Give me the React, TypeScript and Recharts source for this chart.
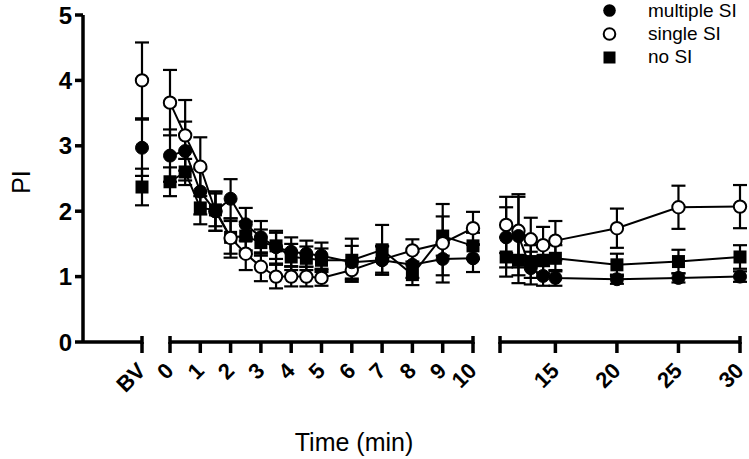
import React from 'react';
import { LineChart, Line, XAxis, YAxis, ErrorBar } from 'recharts';

const W = 749;
const H = 459;
const FONT = '"Liberation Sans", Arial, Helvetica, sans-serif';

// ---- Baseline (BV) ----
const bvX = [1];
const bvMulti = [2.97];
const bvMultiErr = [0.43];
const bvSingle = [4.0];
const bvSingleErr = [0.58];
const bvNone = [2.37];
const bvNoneErr = [0.28];

// ---- 0 - 10 min ----
const earlyTimes = [0, 0.5, 1, 1.5, 2, 2.5, 3, 3.5, 4, 4.5, 5, 6, 7, 8, 9, 10];
const earlyMulti = [2.85, 2.92, 2.3, 2.0, 2.19, 1.8, 1.6, 1.45, 1.38, 1.35, 1.32, 1.22, 1.25, 1.18, 1.27, 1.28];
const earlyMultiErr = [0.4, 0.45, 0.35, 0.3, 0.3, 0.25, 0.25, 0.25, 0.22, 0.2, 0.2, 0.25, 0.22, 0.2, 0.25, 0.21];
const earlySingle = [3.66, 3.16, 2.68, 2.0, 1.59, 1.35, 1.15, 1.0, 1.0, 1.0, 0.98, 1.1, 1.26, 1.4, 1.51, 1.74];
const earlySingleErr = [0.5, 0.54, 0.45, 0.3, 0.3, 0.25, 0.22, 0.18, 0.15, 0.15, 0.12, 0.15, 0.2, 0.17, 0.6, 0.25];
const earlyNone = [2.45, 2.6, 2.05, 2.02, 1.6, 1.62, 1.52, 1.47, 1.3, 1.28, 1.25, 1.25, 1.41, 1.03, 1.62, 1.47];
const earlyNoneErr = [0.22, 0.2, 0.25, 0.25, 0.25, 0.22, 0.2, 0.2, 0.2, 0.18, 0.18, 0.33, 0.38, 0.16, 0.3, 0.2];

// ---- 11 - 30 min ----
const lateTimes = [11, 12, 13, 14, 15, 20, 25, 30];
const lateMulti = [1.6, 1.62, 1.13, 1.01, 0.98, 0.96, 0.98, 1.0];
const lateMultiErr = [0.46, 0.6, 0.25, 0.15, 0.12, 0.07, 0.07, 0.08];
const lateSingle = [1.79, 1.7, 1.57, 1.48, 1.55, 1.74, 2.06, 2.07];
const lateSingleErr = [0.43, 0.56, 0.33, 0.28, 0.3, 0.3, 0.33, 0.33];
const lateNone = [1.3, 1.25, 1.23, 1.25, 1.28, 1.18, 1.23, 1.3];
const lateNoneErr = [0.3, 0.35, 0.25, 0.2, 0.2, 0.17, 0.18, 0.18];

// ---- ticks ----
const yTicks = [0, 1, 2, 3, 4, 5];
const bvTicks = [1];
const bvTickLabels = ['BV'];
const bvCaps = [1];
const earlyTicks = [0, 1, 2, 3, 4, 5, 6, 7, 8, 9, 10];
const earlyTickLabels = ['0', '1', '2', '3', '4', '5', '6', '7', '8', '9', '10'];
const earlyCaps = [0, 10];
const lateTicks = [10.5, 15, 20, 25, 30];
const lateTickLabels = ['', '15', '20', '25', '30'];
const lateCaps = [10.5, 30];

const legendLabels = ['multiple SI', 'single SI', 'no SI'];
const xAxisTitle = 'Time (min)';
const yAxisTitle = 'PI';

function buildRows(
  xs: number[], m: number[], me: number[], s: number[], se: number[], n: number[], ne: number[]
) {
  return xs.map((x, i) => ({
    x,
    multi: m[i],
    multiErr: me[i],
    single: s[i],
    singleErr: se[i],
    none: n[i],
    noneErr: ne[i],
  }));
}

const bvRows = buildRows(bvX, bvMulti, bvMultiErr, bvSingle, bvSingleErr, bvNone, bvNoneErr);
const earlyRows = buildRows(earlyTimes, earlyMulti, earlyMultiErr, earlySingle, earlySingleErr, earlyNone, earlyNoneErr);
const lateRows = buildRows(lateTimes, lateMulti, lateMultiErr, lateSingle, lateSingleErr, lateNone, lateNoneErr);

const X_TICK_SIZE = 11;
const X_TICK_MARGIN = 2;
const X_AXIS_H = 60;
const AXIS_W = 3.5;

function renderXTick(p: any, ticks: number[], labels: string[], caps: number[]) {
  const { x, y, payload } = p;
  const idx = ticks.indexOf(payload.value);
  const label = idx >= 0 ? labels[idx] : '';
  const axisY = y - X_TICK_SIZE - X_TICK_MARGIN;
  const ax = x + 5;
  const ay = axisY + 30;
  return (
    <g>
      {caps.includes(payload.value) && (
        <line x1={x} x2={x} y1={axisY - 6} y2={axisY + 2} stroke="#000" strokeWidth={AXIS_W} />
      )}
      {label !== '' && (
        <text
          x={ax}
          y={ay}
          transform={`rotate(-45, ${ax}, ${ay})`}
          textAnchor="end"
          fontFamily={FONT}
          fontWeight={700}
          fontSize={22}
          fill="#000"
        >
          {label}
        </text>
      )}
    </g>
  );
}

const squareDot = (p: any) => (
  <rect key={`sq-${p.index}`} x={p.cx - 6.5} y={p.cy - 6.5} width={13} height={13} fill="#000" />
);

interface SegProps {
  rows: any[];
  domain: [number, number];
  ticks: number[];
  labels: string[];
  caps: number[];
  margin: { top: number; right: number; bottom: number; left: number };
  showY: boolean;
}

function Segment({ rows, domain, ticks, labels, caps, margin, showY }: SegProps) {
  return (
    <div style={{ position: 'absolute', left: 0, top: 0 }}>
      <LineChart width={W} height={H} data={rows} margin={margin}>
        <XAxis
          type="number"
          dataKey="x"
          domain={domain}
          ticks={ticks}
          interval={0}
          height={X_AXIS_H}
          axisLine={{ stroke: '#000', strokeWidth: AXIS_W }}
          tickLine={{ stroke: '#000', strokeWidth: AXIS_W }}
          tickSize={X_TICK_SIZE}
          tickMargin={X_TICK_MARGIN}
          tick={(p: any) => renderXTick(p, ticks, labels, caps)}
        />
        <YAxis
          type="number"
          domain={[0, 5]}
          ticks={yTicks}
          interval={0}
          hide={!showY}
          width={83}
          axisLine={{ stroke: '#000', strokeWidth: AXIS_W }}
          tickLine={{ stroke: '#000', strokeWidth: AXIS_W }}
          tickSize={8}
          tickMargin={3}
          tick={{ fill: '#000', fontSize: 24, fontWeight: 700, fontFamily: FONT }}
        />
        <Line
          dataKey="none"
          type="linear"
          stroke="#000"
          strokeWidth={2}
          dot={squareDot}
          activeDot={false}
          isAnimationActive={false}
        >
          <ErrorBar dataKey="noneErr" width={7} strokeWidth={2.2} stroke="#000" direction="y" />
        </Line>
        <Line
          dataKey="single"
          type="linear"
          stroke="#000"
          strokeWidth={2}
          dot={{ r: 6.2, fill: '#fff', stroke: '#000', strokeWidth: 2 }}
          activeDot={false}
          isAnimationActive={false}
        >
          <ErrorBar dataKey="singleErr" width={7} strokeWidth={2.2} stroke="#000" direction="y" />
        </Line>
        <Line
          dataKey="multi"
          type="linear"
          stroke="#000"
          strokeWidth={2}
          dot={{ r: 6.5, fill: '#000', stroke: '#000', strokeWidth: 1 }}
          activeDot={false}
          isAnimationActive={false}
        >
          <ErrorBar dataKey="multiErr" width={7} strokeWidth={2.2} stroke="#000" direction="y" />
        </Line>
      </LineChart>
    </div>
  );
}

export default function App() {
  return (
    <div style={{ position: 'absolute', left: 0, top: 0, width: W, height: H, background: '#fff', overflow: 'hidden' }}>
      <Segment rows={bvRows} domain={[0, 1]} ticks={bvTicks} labels={bvTickLabels} caps={bvCaps}
        margin={{ top: 15, right: 607, bottom: 57, left: 0 }} showY={true} />
      <Segment rows={earlyRows} domain={[0, 10]} ticks={earlyTicks} labels={earlyTickLabels} caps={earlyCaps}
        margin={{ top: 15, right: 276, bottom: 57, left: 170 }} showY={false} />
      <Segment rows={lateRows} domain={[10.5, 30]} ticks={lateTicks} labels={lateTickLabels} caps={lateCaps}
        margin={{ top: 15, right: 9, bottom: 57, left: 500 }} showY={false} />
      <svg width={W} height={H} style={{ position: 'absolute', left: 0, top: 0, pointerEvents: 'none' }}>
        <text x={21} y={182} transform="rotate(-90, 21, 182)" textAnchor="middle" dominantBaseline="central"
          fontFamily={FONT} fontSize={25} fill="#000">{yAxisTitle}</text>
        <text x={354} y={451} textAnchor="middle" fontFamily={FONT} fontSize={25} fill="#000">{xAxisTitle}</text>
        <circle cx={609.5} cy={10.5} r={6.3} fill="#000" />
        <circle cx={609.5} cy={34} r={5.8} fill="#fff" stroke="#000" strokeWidth={2} />
        <rect x={603.5} y={51.5} width={12} height={12} fill="#000" />
        <text x={648} y={17} fontFamily={FONT} fontSize={19} fill="#000">{legendLabels[0]}</text>
        <text x={648} y={40} fontFamily={FONT} fontSize={19} fill="#000">{legendLabels[1]}</text>
        <text x={648} y={63} fontFamily={FONT} fontSize={19} fill="#000">{legendLabels[2]}</text>
      </svg>
    </div>
  );
}
